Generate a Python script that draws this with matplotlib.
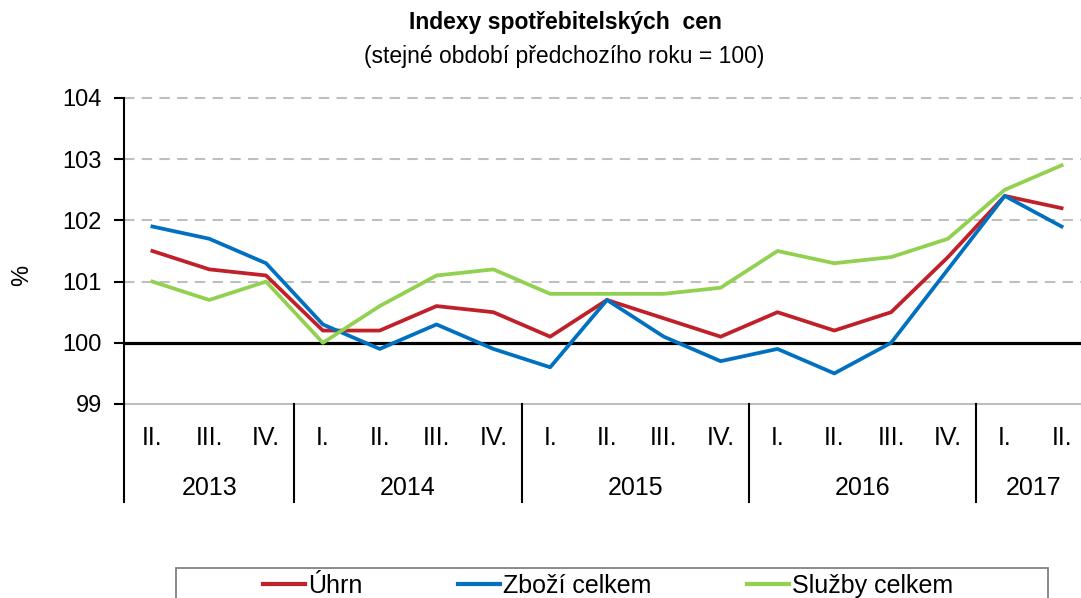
import matplotlib
matplotlib.use("Agg")
import matplotlib.pyplot as plt
from matplotlib.lines import Line2D
from matplotlib.patches import Rectangle
import matplotlib.transforms as mtransforms

plt.rcParams['font.family'] = ['Liberation Sans', 'DejaVu Sans']

quarters = ["II.", "III.", "IV.",
            "I.", "II.", "III.", "IV.",
            "I.", "II.", "III.", "IV.",
            "I.", "II.", "III.", "IV.",
            "I.", "II."]
years = ["2013", "2014", "2015", "2016", "2017"]
year_counts = [3, 4, 4, 4, 2]

uhrn = [101.5, 101.2, 101.1, 100.2, 100.2, 100.6, 100.5, 100.1, 100.7, 100.4,
        100.1, 100.5, 100.2, 100.5, 101.4, 102.4, 102.2]
zbozi = [101.9, 101.7, 101.3, 100.3, 99.9, 100.3, 99.9, 99.6, 100.7, 100.1,
         99.7, 99.9, 99.5, 100.0, 101.2, 102.4, 101.9]
sluzby = [101.0, 100.7, 101.0, 100.0, 100.6, 101.1, 101.2, 100.8, 100.8, 100.8,
          100.9, 101.5, 101.3, 101.4, 101.7, 102.5, 102.9]

series_names = ["Úhrn", "Zboží celkem", "Služby celkem"]
colors = ["#C0202A", "#0070C0", "#92D050"]

W, H = 1081, 598
fig = plt.figure(figsize=(W / 100, H / 100), dpi=100)
left, right, top, bottom = 124, 1090, 98, 404
ax = fig.add_axes([left / W, 1 - bottom / H, (right - left) / W, (bottom - top) / H])

x = list(range(len(quarters)))
ax.set_xlim(-0.5, len(quarters) - 0.5)
ax.set_ylim(99, 104)

for yv in [101, 102, 103, 104]:
    ax.axhline(yv, color="#BFBFBF", lw=1.5, ls=(0, (5, 3.5)), zorder=1, clip_on=False)
ax.axhline(99, color="#BFBFBF", lw=1.5, zorder=1, clip_on=False)
ax.axhline(100, color="black", lw=2.3, zorder=2)

for vals, c, name in zip([uhrn, zbozi, sluzby], colors, series_names):
    ax.plot(x, vals, color=c, lw=2.7, label=name, zorder=3)

for s in ["top", "right", "bottom"]:
    ax.spines[s].set_visible(False)
ax.spines["left"].set_linewidth(1.5)
ax.set_yticks([99, 100, 101, 102, 103, 104])
ax.tick_params(axis="y", direction="out", length=7, width=1.5, labelsize=17, pad=9)
ax.set_xticks([])

fig.text(22 / W, 1 - 275 / H, "%", rotation=90, ha="center", va="center", fontsize=17)

trans = mtransforms.blended_transform_factory(ax.transData, ax.transAxes)
for i, q in enumerate(quarters):
    ax.text(i, -0.11, q, transform=trans, ha="center", va="center", fontsize=18)
start = 0
bounds = [-0.5]
for yr, n in zip(years, year_counts):
    center = start + (n - 1) / 2
    ax.text(center, -0.273, yr, transform=trans, ha="center", va="center", fontsize=18)
    start += n
    bounds.append(start - 0.5)
for b in bounds[:-1]:
    ax.add_line(Line2D([b, b], [0, -0.32], transform=trans, color="black",
                       lw=1.5, clip_on=False))

fig.text(565 / W, 1 - 23 / H, "Indexy spotřebitelských  cen", ha="center", va="center",
         fontsize=16.5, fontweight="bold")
fig.text(564 / W, 1 - 56 / H, "(stejné období předchozího roku = 100)", ha="center",
         va="center", fontsize=16.5)

# legend frame (Excel-like, wider than its entries)
fig.patches.append(Rectangle((176 / W, -0.05), (1048 - 176) / W, (1 - 568 / H) + 0.05,
                             transform=fig.transFigure, facecolor="white",
                             edgecolor="#808080", lw=1.3, zorder=0))
handles = [Line2D([], [], color=c, lw=3) for c in colors]
fig.legend(handles, series_names, loc="center", bbox_to_anchor=(608 / W, 1 - 586 / H),
           ncol=3, fontsize=18, frameon=False, handlelength=1.7, handletextpad=0.12,
           columnspacing=3.8, borderpad=0, borderaxespad=0)

fig.savefig("out.png", dpi=100)
